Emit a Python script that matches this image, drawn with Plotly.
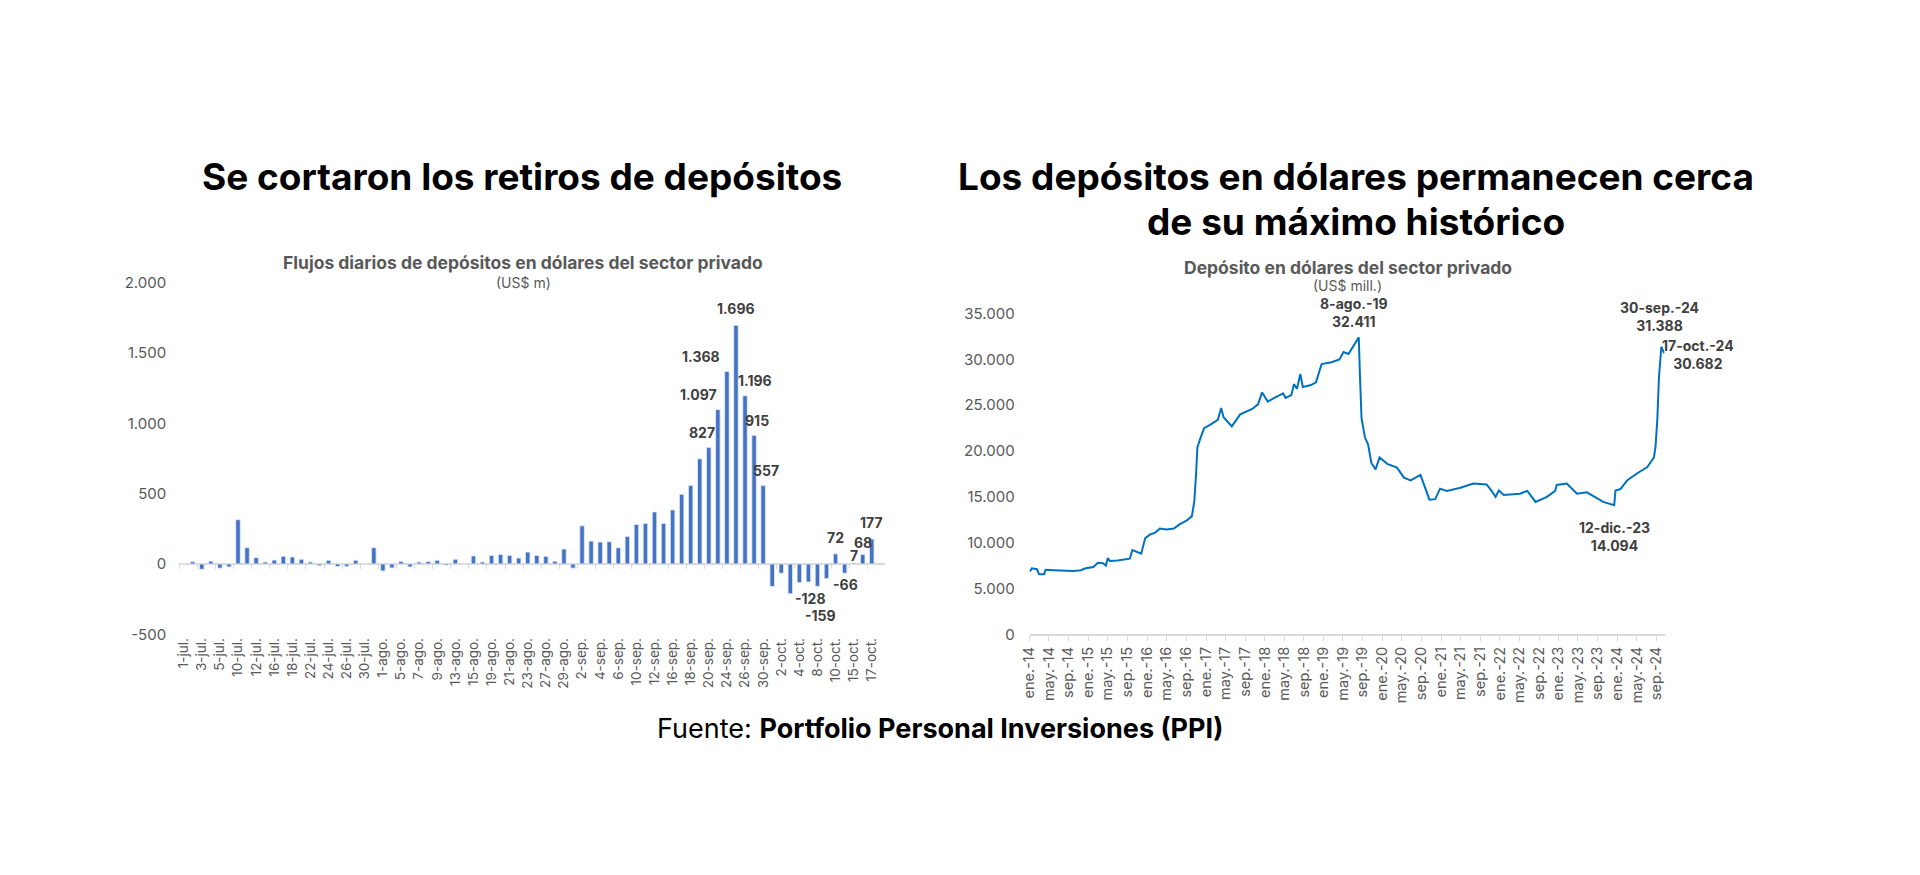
import plotly.graph_objects as go

# ---------------- Left chart data: daily flows (US$ m) ----------------
flow_dates = [
    "1-jul.", "2-jul.", "3-jul.", "4-jul.", "5-jul.", "8-jul.", "10-jul.", "11-jul.", "12-jul.", "15-jul.",
    "16-jul.", "17-jul.", "18-jul.", "19-jul.", "22-jul.", "23-jul.", "24-jul.", "25-jul.", "26-jul.", "29-jul.",
    "30-jul.", "31-jul.", "1-ago.", "2-ago.", "5-ago.", "6-ago.", "7-ago.", "8-ago.", "9-ago.", "12-ago.",
    "13-ago.", "14-ago.", "15-ago.", "16-ago.", "19-ago.", "20-ago.", "21-ago.", "22-ago.", "23-ago.", "26-ago.",
    "27-ago.", "28-ago.", "29-ago.", "30-ago.", "2-sep.", "3-sep.", "4-sep.", "5-sep.", "6-sep.", "9-sep.",
    "10-sep.", "11-sep.", "12-sep.", "13-sep.", "16-sep.", "17-sep.", "18-sep.", "19-sep.", "20-sep.", "23-sep.",
    "24-sep.", "25-sep.", "26-sep.", "27-sep.", "30-sep.", "1-oct.", "2-oct.", "3-oct.", "4-oct.", "7-oct.",
    "8-oct.", "9-oct.", "10-oct.", "14-oct.", "15-oct.", "16-oct.", "17-oct.",
]
flow_values = [
    3, 16, -38, 20, -30, -22, 315, 116, 45, 14,
    28, 54, 50, 33, 14, -12, 26, -18, -18, 26,
    2, 116, -50, -28, 17, -21, 14, 17, 26, -10,
    33, 3, 57, 14, 61, 68, 61, 42, 85, 61,
    54, 19, 106, -30, 271, 163, 156, 158, 116, 196,
    281, 288, 370, 288, 384, 495, 557, 748, 827, 1097,
    1368, 1696, 1196, 915, 557, -160, -66, -212, -132, -128,
    -159, -104, 72, -66, 7, 68, 177,
]
flow_tick_labels = flow_dates[::2]
flow_y_ticks = [-500, 0, 500, 1000, 1500, 2000]
flow_y_ticktext = ["-500", "0", "500", "1.000", "1.500", "2.000"]

flow_labels = [
    ("20-sep.", 827, "827", -7, 15),
    ("23-sep.", 1097, "1.097", -19, 15),
    ("24-sep.", 1368, "1.368", -26, 15),
    ("25-sep.", 1696, "1.696", 0, 16),
    ("26-sep.", 1196, "1.196", 10, 15),
    ("27-sep.", 915, "915", 3, 14),
    ("30-sep.", 557, "557", 3, 15),
    ("7-oct.", -128, "-128", 2, -16),
    ("8-oct.", -159, "-159", 3, -28),
    ("10-oct.", 72, "72", 0, 16),
    ("14-oct.", -66, "-66", 1, -11),
    ("15-oct.", 7, "7", 0, 7),
    ("16-oct.", 68, "68", 0, 12),
    ("17-oct.", 177, "177", 0, 16),
]

# ---------------- Right chart data: stock of USD deposits (US$ mill.) ----------------
stock_dates = [
    "2014-01-02", "2014-01-15", "2014-02-15", "2014-03-01", "2014-04-01", "2014-04-10", "2014-06-01",
    "2014-08-01", "2014-10-01", "2014-11-15", "2014-12-15", "2015-02-01", "2015-03-01", "2015-04-01",
    "2015-04-20", "2015-05-01", "2015-05-15", "2015-07-01", "2015-08-15", "2015-09-15", "2015-10-01",
    "2015-11-01", "2015-11-25", "2015-12-20", "2016-01-20", "2016-02-20", "2016-03-20", "2016-05-01",
    "2016-06-15", "2016-07-20", "2016-09-01", "2016-10-05", "2016-10-20", "2016-10-31", "2016-11-08",
    "2016-11-25", "2016-12-20", "2017-01-20", "2017-03-15", "2017-04-05", "2017-04-20", "2017-06-10",
    "2017-08-01", "2017-10-15", "2017-11-20", "2017-12-15", "2018-01-20", "2018-03-01", "2018-04-25",
    "2018-05-10", "2018-06-15", "2018-07-01", "2018-07-20", "2018-08-10", "2018-08-25", "2018-10-15",
    "2018-11-15", "2018-12-20", "2019-02-20", "2019-04-10", "2019-05-05", "2019-06-05", "2019-07-15",
    "2019-08-08", "2019-08-15", "2019-08-25", "2019-09-15", "2019-10-05", "2019-10-25", "2019-11-20",
    "2019-12-15", "2020-02-01", "2020-04-01", "2020-05-15", "2020-06-25", "2020-08-25", "2020-09-15",
    "2020-10-20", "2020-11-25", "2020-12-25", "2021-02-05", "2021-05-01", "2021-07-20", "2021-10-10",
    "2021-11-10", "2021-12-05", "2021-12-25", "2022-01-25", "2022-05-05", "2022-06-20", "2022-08-10",
    "2022-10-20", "2022-12-10", "2022-12-20", "2023-02-20", "2023-04-25", "2023-06-25", "2023-08-05",
    "2023-10-05", "2023-12-12", "2023-12-20", "2024-01-20", "2024-03-01", "2024-05-01", "2024-07-05",
    "2024-08-15", "2024-08-25", "2024-09-05", "2024-09-15", "2024-09-30", "2024-10-17",
]
stock_values = [
    6850, 7200, 7100, 6550, 6550, 7050, 7000,
    6950, 6900, 7000, 7200, 7350, 7800, 7750,
    7500, 8300, 8000, 8050, 8200, 8250, 9200,
    8950, 8800, 10500, 10900, 11100, 11550, 11450,
    11550, 12000, 12400, 12900, 14500, 17500, 20400,
    21300, 22500, 22800, 23400, 24700, 23700, 22700,
    24000, 24600, 25100, 26400, 25400, 25800, 26300,
    25800, 26100, 27300, 26800, 28400, 27000, 27200,
    27500, 29500, 29700, 30000, 30800, 30600, 31700,
    32411, 28400, 23600, 21500, 20700, 18700, 18000,
    19300, 18600, 18200, 17100, 16800, 17400, 16400,
    14700, 14750, 15900, 15650, 16000, 16450, 16350,
    15650, 15000, 15700, 15200, 15350, 15650, 14450,
    15000, 15650, 16300, 16450, 15350, 15500, 15100,
    14450, 14094, 15700, 15850, 16800, 17550, 18250,
    19300, 20500, 23500, 28000, 31388, 30682,
]
stock_tick_vals = [f"{y}-{m:02d}-01" for y in range(2014, 2025) for m in (1, 5, 9)]
stock_tick_text = [f"{mn}.-{str(y)[2:]}" for y in range(2014, 2025) for mn in ("ene", "may", "sep")]
stock_y_ticks = [0, 5000, 10000, 15000, 20000, 25000, 30000, 35000]
stock_y_ticktext = ["0", "5.000", "10.000", "15.000", "20.000", "25.000", "30.000", "35.000"]

stock_labels = [
    ("2019-08-08", 32411, "8-ago.-19<br>32.411", -5, 24),
    ("2024-09-30", 31388, "30-sep.-24<br>31.388", -2, 29),
    ("2024-10-17", 30682, "17-oct.-24<br>30.682", 34, -1),
    ("2023-12-12", 14094, "12-dic.-23<br>14.094", 0, -31),
]

# figure slightly smaller than the window; placement measured from the rendered page
W, H = 1900, 855
AX, SX = 16.2, 0.9954
AY, SY = 18.0, 0.9757
FONT = "Inter"
GRAY = "#595959"
DARK = "#404040"
AXIS_GRAY = "#D9D9D9"

fig = go.Figure()
fig.add_trace(go.Bar(x=flow_dates, y=flow_values, marker_color="#4472C4",
                     xaxis="x", yaxis="y", showlegend=False, hoverinfo="x+y"))
# transparent copy on an overlaid category axis that carries the zero-line tick marks
fig.add_trace(go.Bar(x=flow_dates, y=flow_values, marker=dict(color="rgba(0,0,0,0)"),
                     xaxis="x3", yaxis="y", showlegend=False, hoverinfo="skip"))
fig.add_trace(go.Scatter(x=stock_dates, y=stock_values, mode="lines",
                         line=dict(color="#0070C0", width=2),
                         xaxis="x2", yaxis="y2", showlegend=False))

def px_x(t):
    return ((t - AX) / SX) / W

def px_y(t):
    return 1 - ((t - AY) / SY) / H

annotations = []
for cat, v, t, xs, ys in flow_labels:
    annotations.append(dict(x=cat, y=v, xref="x", yref="y", text=f"<b>{t}</b>", showarrow=False,
                            xshift=xs / SX, yshift=ys / SY, font=dict(family=FONT, size=14, color=DARK)))
for d, v, t, xs, ys in stock_labels:
    annotations.append(dict(x=d, y=v, xref="x2", yref="y2", text=f"<b>{t}</b>", showarrow=False,
                            xshift=xs / SX, yshift=ys / SY, font=dict(family=FONT, size=14, color=DARK)))

def text(x, y, t, size, color="#000000", bold=False):
    annotations.append(dict(x=px_x(x), y=px_y(y), xref="paper", yref="paper",
                            text=f"<b>{t}</b>" if bold else t, showarrow=False,
                            xanchor="center", yanchor="middle",
                            font=dict(family=FONT, size=size, color=color)))

text(521, 176, "Se cortaron los retiros de depósitos", 37, bold=True)
text(1355, 176, "Los depósitos en dólares permanecen cerca", 37, bold=True)
text(1355, 221, "de su máximo histórico", 37, bold=True)
text(522, 262, "Flujos diarios de depósitos en dólares del sector privado", 17.5, GRAY, bold=True)
text(523, 282, "(US$ m)", 14, GRAY)
text(1347, 267, "Depósito en dólares del sector privado", 17.5, GRAY, bold=True)
text(1347, 285, "(US$ mill.)", 14, GRAY)
text(939, 727, "Fuente: <b>Portfolio Personal Inversiones (PPI)</b>", 27)

y_dom = [px_y(633), px_y(282)]
zero_pos = y_dom[0] + (y_dom[1] - y_dom[0]) * (0 - (-500)) / (2000 - (-500))

fig.update_layout(
    width=W, height=H, autosize=False,
    margin=dict(l=0, r=0, t=0, b=0),
    paper_bgcolor="white", plot_bgcolor="white",
    bargap=0.5,
    font=dict(family=FONT, color=GRAY),
    xaxis=dict(domain=[px_x(178.4), px_x(884.6)], type="category",
               categoryorder="array", categoryarray=flow_dates,
               tickvals=flow_tick_labels, ticktext=flow_tick_labels, tickangle=-90,
               tickfont=dict(family=FONT, size=13.5, color=GRAY),
               showgrid=False, showline=False, ticks="", zeroline=False,
               anchor="y"),
    xaxis3=dict(domain=[px_x(178.4), px_x(884.6)], type="category",
                categoryorder="array", categoryarray=flow_dates,
                overlaying="x", matches="x", anchor="free", position=zero_pos,
                showticklabels=False, ticks="outside", tickson="boundaries",
                ticklen=4, tickwidth=1, tickcolor=AXIS_GRAY,
                showline=False, showgrid=False, zeroline=False),
    yaxis=dict(domain=y_dom, range=[-500, 2000],
               tickvals=flow_y_ticks, ticktext=flow_y_ticktext,
               tickfont=dict(family=FONT, size=15, color=GRAY),
               showgrid=False, showline=False, ticks="",
               zeroline=True, zerolinecolor=AXIS_GRAY, zerolinewidth=1.5,
               ticklabelstandoff=12, anchor="x"),
    xaxis2=dict(domain=[px_x(1029), px_x(1664)], type="date",
                range=["2014-01-01", "2024-10-20"],
                tickvals=stock_tick_vals, ticktext=stock_tick_text, tickangle=-90,
                tickfont=dict(family=FONT, size=14.5, color=GRAY),
                showgrid=False, showline=True, linecolor=AXIS_GRAY, linewidth=1.5,
                ticks="outside", ticklen=5, tickcolor=AXIS_GRAY, zeroline=False,
                anchor="y2"),
    yaxis2=dict(domain=[px_y(633), px_y(313)], range=[0, 35000],
                tickvals=stock_y_ticks, ticktext=stock_y_ticktext,
                tickfont=dict(family=FONT, size=15, color=GRAY),
                showgrid=False, showline=False, ticks="", zeroline=False,
                ticklabelstandoff=14, anchor="x2"),
    annotations=annotations,
)

fig.write_html("out.html")
